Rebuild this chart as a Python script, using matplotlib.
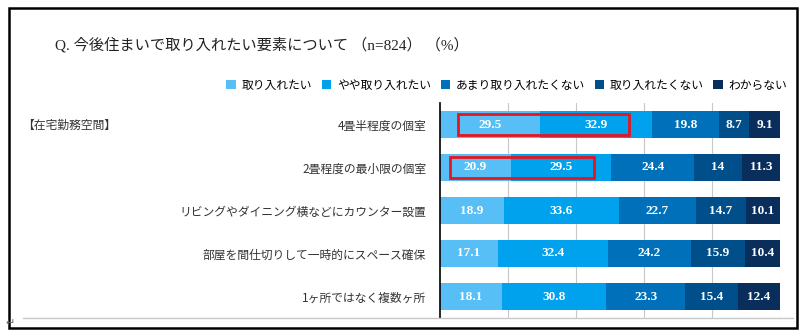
import matplotlib
matplotlib.use("Agg")
import matplotlib.pyplot as plt
from matplotlib.patches import Rectangle
from matplotlib.lines import Line2D

plt.rcParams['font.family'] = ['Noto Sans CJK JP', 'DejaVu Sans']

# data (%)
items = ["4畳半程度の個室", "2畳程度の最小限の個室", "リビングやダイニング横などにカウンター設置",
         "部屋を間仕切りして一時的にスペース確保", "1ヶ所ではなく複数ヶ所"]
series = ["取り入れたい", "やや取り入れたい", "あまり取り入れたくない", "取り入れたくない", "わからない"]
want = [29.5, 20.9, 18.9, 17.1, 18.1]
somewhat = [32.9, 29.5, 33.6, 32.4, 30.8]
not_much = [19.8, 24.4, 22.7, 24.2, 23.3]
not_want = [8.7, 14, 14.7, 15.9, 15.4]
unknown = [9.1, 11.3, 10.1, 10.4, 12.4]
colors = ["#58BEF6", "#00A2EE", "#0070BA", "#004F8A", "#0A2E5C"]
# rows highlighted with a red box (first two segments)
highlight = [0, 1]

fig = plt.figure(figsize=(8.06, 3.36), dpi=100)
ax = fig.add_axes([440/806, 1-318/336, 340/806, 215/336])

values = [want, somewhat, not_much, not_want, unknown]
ypos = list(range(len(items)))
left = [0.0]*len(items)
for vals, col, name in zip(values, colors, series):
    ax.barh(ypos, vals, left=left, height=0.65, color=col, label=name, zorder=2)
    for y, v, l in zip(ypos, vals, left):
        ax.text(l + v/2, y, f"{v:g}", ha="center", va="center", color="white",
                fontsize=9.5, fontweight="bold", family=["Liberation Serif"], zorder=4)
    left = [a + b for a, b in zip(left, vals)]

# red boxes around the first two labels (slightly inset from segment ends)
for r in highlight:
    x0 = want[r] - 24.2 if r == 0 else want[r] - 18.0
    x1 = want[r] + somewhat[r] - 6.9 if r == 0 else want[r] + somewhat[r] - 5.1
    ax.add_patch(Rectangle((x0, r - 0.24), x1 - x0, 0.48, fill=False,
                           edgecolor="#E8141E", lw=2, zorder=5))

ax.set_xlim(0, 100)
ax.set_ylim(len(items) - 0.5, -0.5)
ax.set_xticks([20, 40, 60, 80, 100])
ax.xaxis.grid(True, color="#C8C8C8", lw=0.8, zorder=0)
ax.tick_params(axis="x", length=0, labelbottom=False)
ax.tick_params(axis="y", length=0, pad=10)
ax.set_yticks(ypos)
ax.set_yticklabels(items, fontsize=8.5, color="#333333")
for s in ["top", "right", "bottom"]:
    ax.spines[s].set_visible(False)
ax.spines["left"].set_color("black")
ax.spines["left"].set_linewidth(1.2)

# chart area bottom line
fig.add_artist(Line2D([23/806, 793/806], [1-318/336, 1-318/336], color="#C8C8C8", lw=1))

# outer frame
fig.add_artist(Rectangle((9/806, 1-328/336), 788/806, 320/336, fill=False,
                         edgecolor="black", lw=1.8, transform=fig.transFigure))

fig.text(55/806, 1-45/336, "Q. 今後住まいで取り入れたい要素について （n=824） （%）",
         fontsize=11, va="center", ha="left", color="#222222",
         family=["Liberation Serif", "Noto Sans CJK JP"])
fig.text(22/806, 1-125/336, "【在宅勤務空間】", fontsize=8.5, va="center", ha="left", color="#333333")
fig.text(5/806, 1-323/336, "↵", fontsize=8, va="center", ha="left", color="#666666",
         family=["DejaVu Sans"])

fig.legend(loc="center", bbox_to_anchor=(507/806, 1-85/336), ncol=5, frameon=False,
           fontsize=8.5, handlelength=0.8, handleheight=0.8, handletextpad=0.5,
           columnspacing=0.8)

fig.savefig("out.png", dpi=100)
